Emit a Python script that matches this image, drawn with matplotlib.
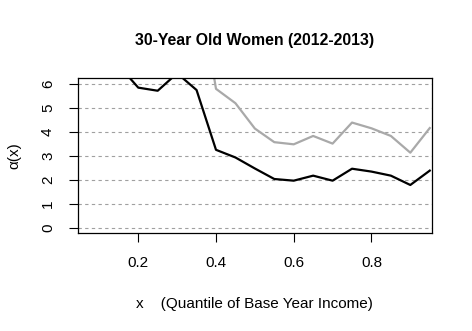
import numpy as np
import matplotlib
matplotlib.use('Agg')
import matplotlib.pyplot as plt

plt.rcParams['font.family'] = ['Liberation Sans', 'DejaVu Sans']

# quantile grid and the two alpha(x) curves
x_black = [0.15, 0.20, 0.25, 0.30, 0.35, 0.40, 0.45, 0.50, 0.55, 0.60,
           0.65, 0.70, 0.75, 0.80, 0.85, 0.90, 0.95]
a_black = [6.77, 5.85, 5.72, 6.45, 5.75, 3.25, 2.93, 2.47, 2.03, 1.96,
           2.17, 1.96, 2.46, 2.34, 2.17, 1.78, 2.38]

x_gray = [0.35, 0.40, 0.45, 0.50, 0.55, 0.60, 0.65, 0.70, 0.75, 0.80,
          0.85, 0.90, 0.95]
a_gray = [10.7, 5.80, 5.20, 4.14, 3.57, 3.48, 3.83, 3.51, 4.39, 4.15,
          3.83, 3.13, 4.16]

xticks = [0.2, 0.4, 0.6, 0.8]
yticks = [0, 1, 2, 3, 4, 5, 6]

fig = plt.figure(figsize=(4.72, 3.31), dpi=100)
ax = fig.add_axes([0.1653, 0.2952, 0.7493, 0.4682])

for yv in yticks:
    ax.axhline(yv, color='#a0a0a0', lw=0.8, ls=(0, (3, 3)), zorder=1)

ax.plot(x_gray, a_gray, color='#a9a9a9', lw=1.6, zorder=2)
ax.plot(x_black, a_black, color='black', lw=1.6, zorder=3)

ax.set_xlim(0.045, 0.955)
ax.set_ylim(-0.24, 6.24)
ax.set_xticks(xticks)
ax.set_xticklabels(['0.2', '0.4', '0.6', '0.8'])
ax.set_yticks(yticks)
ax.set_yticklabels([str(v) for v in yticks], rotation=90, va='center')
ax.tick_params(axis='both', length=6.5, width=0.8, labelsize=11, direction='out')
ax.tick_params(axis='x', pad=10)
ax.tick_params(axis='y', pad=10)
for sp in ax.spines.values():
    sp.set_linewidth(0.9)

ax.set_title('30-Year Old Women (2012-2013)', fontsize=11.4, fontweight='bold', pad=24)
ax.set_xlabel('x    (Quantile of Base Year Income)', fontsize=11, labelpad=19)
ax.set_ylabel('α(x)', fontsize=11, labelpad=14)

fig.savefig('out.png', dpi=100)
